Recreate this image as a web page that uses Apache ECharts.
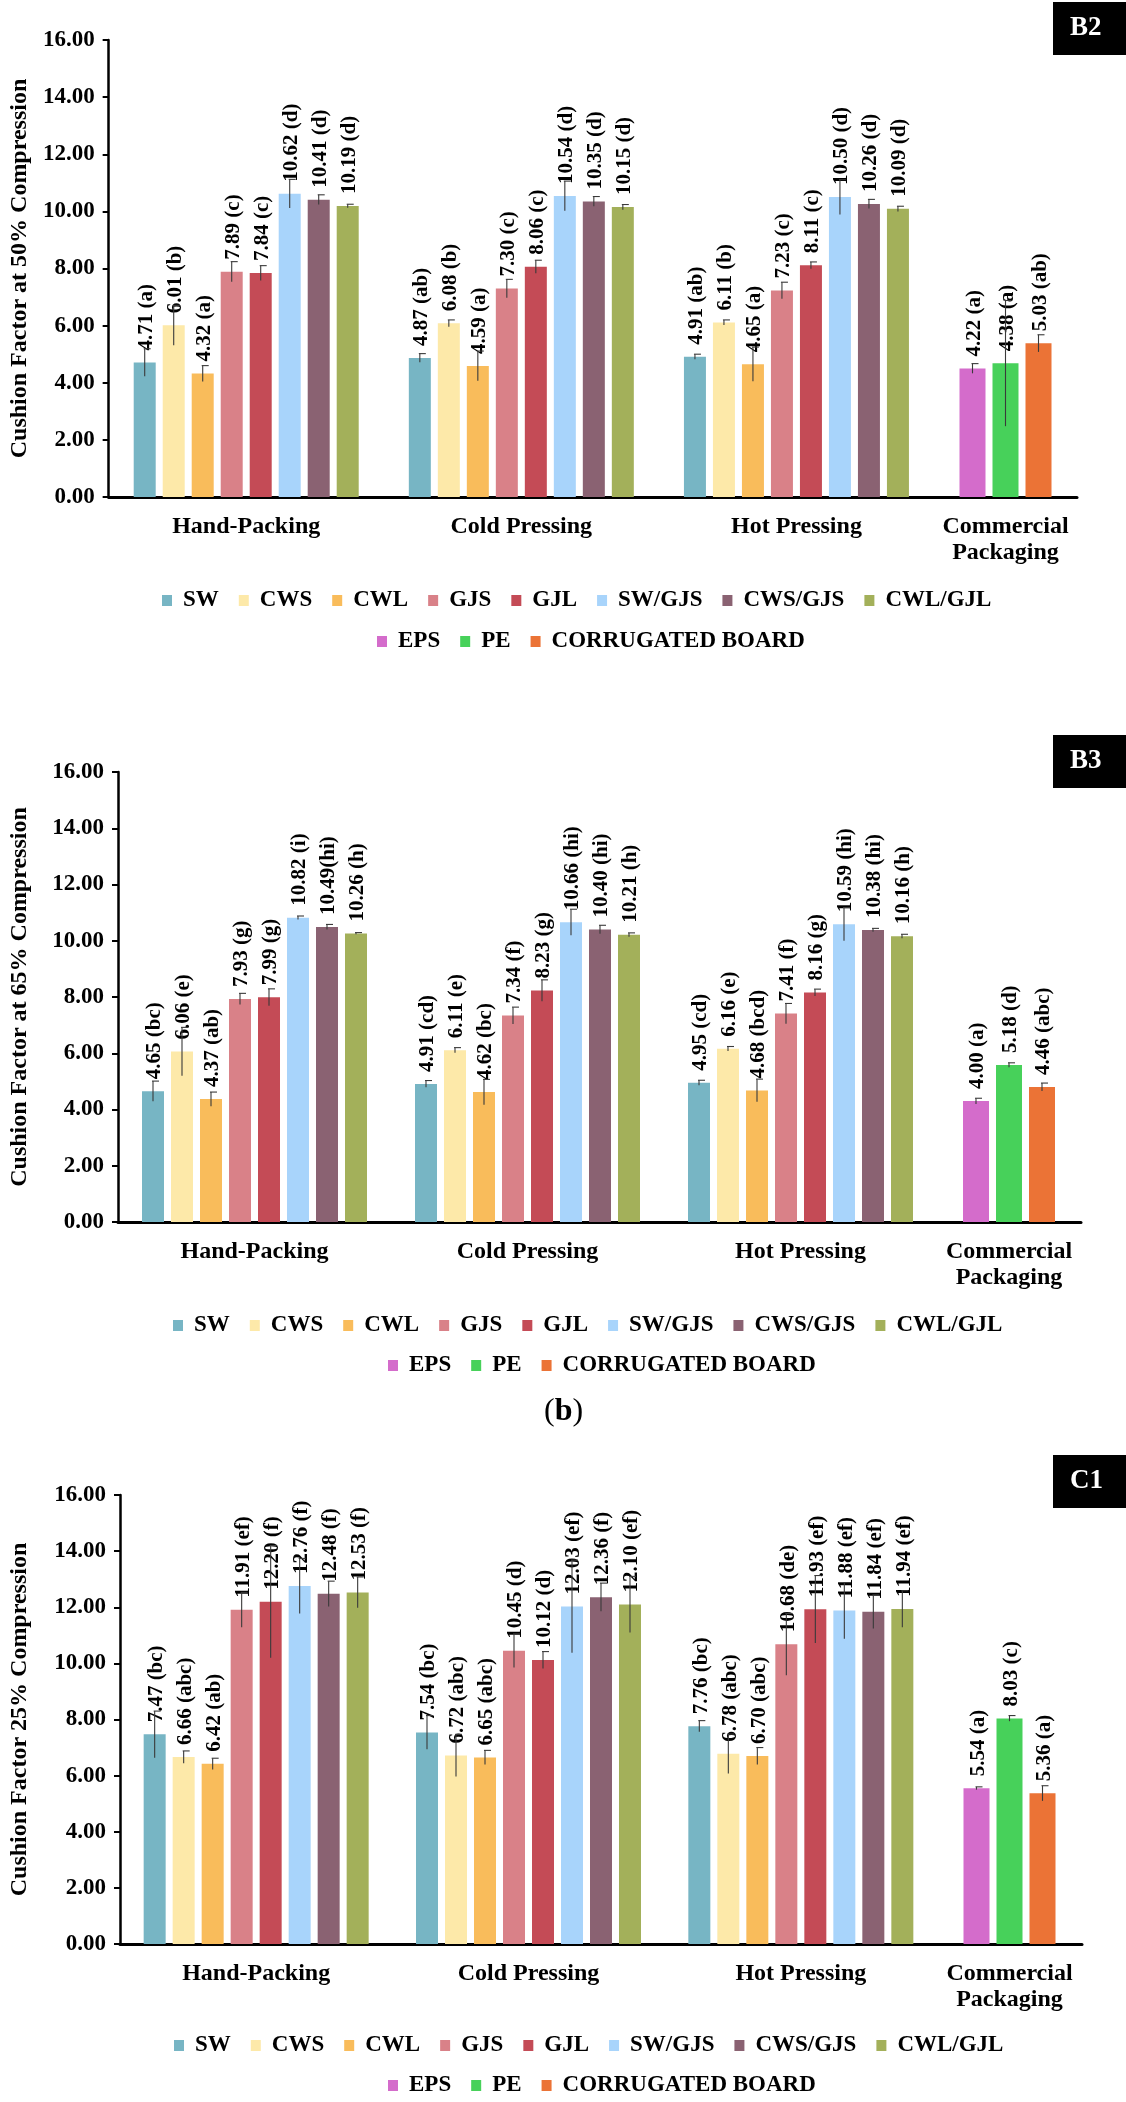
<!DOCTYPE html>
<html>
<head>
<meta charset="utf-8">
<title>Cushion factor</title>
<script src="https://cdn.jsdelivr.net/npm/echarts@6/dist/echarts.min.js"></script>
<style>
  html, body { margin: 0; padding: 0; background: #fff; }
  #chart { width: 1126px; height: 2102px; }
</style>
</head>
<body>
<div id="chart"></div>
<script>
// categories / legend names
const groups = ["Hand-Packing", "Cold Pressing", "Hot Pressing"];
const commercialGroup = ["Commercial\nPackaging"];
const fiberNames = ["SW", "CWS", "CWL", "GJS", "GJL", "SW/GJS", "CWS/GJS", "CWL/GJL"];
const commercialNames = ["EPS", "PE", "CORRUGATED BOARD"];
const fiberColors = ["#77b5c4", "#fde9a9", "#f9bc5b", "#d98188", "#c44b56", "#a8d4fb", "#8a6272", "#a3b05a"];
const commercialColors = ["#d46ccb", "#47d15a", "#eb7336"];

// ---- B2 : 50% compression
const b2Hand = [4.71, 6.01, 4.32, 7.89, 7.84, 10.62, 10.41, 10.19];
const b2HandErr = [0.48, 0.70, 0.28, 0.35, 0.26, 0.50, 0.17, 0.06];
const b2HandLabels = ["4.71 (a)", "6.01 (b)", "4.32 (a)", "7.89 (c)", "7.84 (c)", "10.62 (d)", "10.41 (d)", "10.19 (d)"];
const b2Cold = [4.87, 6.08, 4.59, 7.30, 8.06, 10.54, 10.35, 10.15];
const b2ColdErr = [0.15, 0.12, 0.52, 0.32, 0.23, 0.52, 0.17, 0.09];
const b2ColdLabels = ["4.87 (ab)", "6.08 (b)", "4.59 (a)", "7.30 (c)", "8.06 (c)", "10.54 (d)", "10.35 (d)", "10.15 (d)"];
const b2Hot = [4.91, 6.11, 4.65, 7.23, 8.11, 10.50, 10.26, 10.09];
const b2HotErr = [0.09, 0.09, 0.60, 0.29, 0.12, 0.61, 0.16, 0.09];
const b2HotLabels = ["4.91 (ab)", "6.11 (b)", "4.65 (a)", "7.23 (c)", "8.11 (c)", "10.50 (d)", "10.26 (d)", "10.09 (d)"];
const b2Comm = [4.50, 4.68, 5.38];
const b2CommErr = [0.17, 2.20, 0.30];
const b2CommLabels = ["4.22 (a)", "4.38 (a)", "5.03 (ab)"];

// ---- B3 : 65% compression
const b3Hand = [4.65, 6.06, 4.37, 7.93, 7.99, 10.82, 10.49, 10.26];
const b3HandErr = [0.36, 0.86, 0.25, 0.20, 0.30, 0.06, 0.09, 0.03];
const b3HandLabels = ["4.65 (bc)", "6.06 (e)", "4.37 (ab)", "7.93 (g)", "7.99 (g)", "10.82 (i)", "10.49(hi)", "10.26 (h)"];
const b3Cold = [4.91, 6.11, 4.62, 7.34, 8.23, 10.66, 10.40, 10.21];
const b3ColdErr = [0.12, 0.09, 0.45, 0.30, 0.38, 0.46, 0.15, 0.07];
const b3ColdLabels = ["4.91 (cd)", "6.11 (e)", "4.62 (bc)", "7.34 (f)", "8.23 (g)", "10.66 (hi)", "10.40 (hi)", "10.21 (h)"];
const b3Hot = [4.95, 6.16, 4.68, 7.41, 8.16, 10.59, 10.38, 10.16];
const b3HotErr = [0.09, 0.08, 0.40, 0.36, 0.12, 0.59, 0.06, 0.07];
const b3HotLabels = ["4.95 (cd)", "6.16 (e)", "4.68 (bcd)", "7.41 (f)", "8.16 (g)", "10.59 (hi)", "10.38 (hi)", "10.16 (h)"];
const b3Comm = [4.30, 5.58, 4.80];
const b3CommErr = [0.10, 0.08, 0.14];
const b3CommLabels = ["4.00 (a)", "5.18 (d)", "4.46 (abc)"];

// ---- C1 : 25% compression
const c1Hand = [7.47, 6.66, 6.42, 11.91, 12.20, 12.76, 12.48, 12.53];
const c1HandErr = [0.83, 0.22, 0.20, 0.62, 2.00, 0.98, 0.45, 0.55];
const c1HandLabels = ["7.47 (bc)", "6.66 (abc)", "6.42 (ab)", "11.91 (ef)", "12.20 (f)", "12.76 (f)", "12.48 (f)", "12.53 (f)"];
const c1Cold = [7.54, 6.72, 6.65, 10.45, 10.12, 12.03, 12.36, 12.10];
const c1ColdErr = [0.60, 0.75, 0.25, 0.60, 0.30, 1.65, 0.50, 1.00];
const c1ColdLabels = ["7.54 (bc)", "6.72 (abc)", "6.65 (abc)", "10.45 (d)", "10.12 (d)", "12.03 (ef)", "12.36 (f)", "12.10 (ef)"];
const c1Hot = [7.76, 6.78, 6.70, 10.68, 11.93, 11.88, 11.84, 11.94];
const c1HotErr = [0.20, 0.70, 0.30, 1.10, 1.20, 1.00, 0.60, 0.65];
const c1HotLabels = ["7.76 (bc)", "6.78 (abc)", "6.70 (abc)", "10.68 (de)", "11.93 (ef)", "11.88 (ef)", "11.84 (ef)", "11.94 (ef)"];
const c1Comm = [5.55, 8.04, 5.37];
const c1CommErr = [0.05, 0.10, 0.27];
const c1CommLabels = ["5.54 (a)", "8.03 (c)", "5.36 (a)"];

const FONT = '"Liberation Serif", "Times New Roman", serif';

const panels = [
  { vals: [b2Hand, b2Cold, b2Hot], errs: [b2HandErr, b2ColdErr, b2HotErr], labs: [b2HandLabels, b2ColdLabels, b2HotLabels],
    comm: b2Comm, commErr: b2CommErr, commLabs: b2CommLabels,
    yName: "Cushion Factor at 50% Compression", badge: "B2",
    top: 40, bottom: 497, left: 101, split: 934, right: 1077,
    legendLeft: [162, 377], legendY: [602, 643], badgeY: 2 },
  { vals: [b3Hand, b3Cold, b3Hot], errs: [b3HandErr, b3ColdErr, b3HotErr], labs: [b3HandLabels, b3ColdLabels, b3HotLabels],
    comm: b3Comm, commErr: b3CommErr, commLabs: b3CommLabels,
    yName: "Cushion Factor at 65% Compression", badge: "B3",
    top: 772, bottom: 1222, left: 114, split: 937, right: 1081,
    legendLeft: [173, 388], legendY: [1327, 1367], badgeY: 735 },
  { vals: [c1Hand, c1Cold, c1Hot], errs: [c1HandErr, c1ColdErr, c1HotErr], labs: [c1HandLabels, c1ColdLabels, c1HotLabels],
    comm: c1Comm, commErr: c1CommErr, commLabs: c1CommLabels,
    yName: "Cushion Factor 25% Compression", badge: "C1",
    top: 1495, bottom: 1944, left: 116, split: 937, right: 1082,
    legendLeft: [174, 388], legendY: [2047, 2087], badgeY: 1455 }
];

const fiberBar = 22, fiberGap = 7;
const commBar = 26, commGap = 7;

let grid = [], xAxis = [], yAxis = [], legend = [], series = [], graphic = [];

function barLabel(texts) {
  return {
    show: true,
    position: "top",
    rotate: 90,
    align: "left",
    verticalAlign: "middle",
    distance: 12,
    offset: [0, 2],
    fontFamily: FONT,
    fontWeight: "bold",
    fontSize: 21,
    color: "#000",
    formatter: function (p) { return texts[p.dataIndex]; }
  };
}

function errorSeries(axisIdx, data, n, pitch) {
  return {
    type: "custom",
    xAxisIndex: axisIdx,
    yAxisIndex: axisIdx,
    z: 4,
    silent: true,
    encode: { x: 0, y: 2 },
    data: data,
    renderItem: function (params, api) {
      let g = api.value(0), k = api.value(1), v = api.value(2), e = api.value(3);
      let x = api.coord([g, v])[0] + (k - (n - 1) / 2) * pitch;
      let yTop = api.coord([g, v + e])[1];
      let yBot = api.coord([g, v - e])[1];
      let st = { stroke: "#3a3a3a", lineWidth: 1.1 };
      return {
        type: "group",
        children: [
          { type: "line", shape: { x1: x, y1: yTop, x2: x, y2: yBot }, style: st },
          { type: "line", shape: { x1: x - 1, y1: yTop, x2: x + 6, y2: yTop }, style: st }
        ]
      };
    }
  };
}

panels.forEach(function (p, i) {
  let h = p.bottom - p.top;
  let a = 2 * i, b = 2 * i + 1;
  grid.push({ left: p.left, top: p.top, width: p.split - p.left, height: h });
  grid.push({ left: p.split, top: p.top, width: p.right - p.split, height: h });

  let xLabel = { fontFamily: FONT, fontWeight: "bold", fontSize: 24, color: "#000", margin: 17, lineHeight: 26, interval: 0 };
  let xLine = { show: true, lineStyle: { color: "#000", width: 3 } };
  xAxis.push({ type: "category", gridIndex: a, data: groups, axisLine: xLine, axisTick: { show: false }, axisLabel: xLabel });
  xAxis.push({ type: "category", gridIndex: b, data: commercialGroup, axisLine: xLine, axisTick: { show: false }, axisLabel: xLabel });

  yAxis.push({
    type: "value", gridIndex: a, min: 0, max: 16, interval: 2,
    name: p.yName, nameLocation: "middle", nameGap: p.left - 28,
    nameTextStyle: { fontFamily: FONT, fontWeight: "bold", fontSize: 24, color: "#000" },
    axisLine: { show: true, lineStyle: { color: "#000", width: 2.5 } },
    axisTick: { show: true, length: 6, lineStyle: { color: "#000", width: 2 } },
    splitLine: { show: false },
    axisLabel: { fontFamily: FONT, fontWeight: "bold", fontSize: 23, color: "#000", margin: 14,
      formatter: function (v) { return v.toFixed(2); } }
  });
  yAxis.push({ type: "value", gridIndex: b, min: 0, max: 16, interval: 2, show: false, splitLine: { show: false } });

  let legendText = { fontFamily: FONT, fontWeight: "bold", fontSize: 23, color: "#000", padding: [0, 0, 0, 6] };
  legend.push({ data: fiberNames, left: p.legendLeft[0], top: p.legendY[0] - 13, padding: 0, itemGap: 20,
    itemWidth: 10, itemHeight: 11, icon: "rect", textStyle: legendText, selectedMode: false });
  legend.push({ data: commercialNames, left: p.legendLeft[1], top: p.legendY[1] - 13, padding: 0, itemGap: 20,
    itemWidth: 10, itemHeight: 11, icon: "rect", textStyle: legendText, selectedMode: false });

  // fibre bars, one series per material
  let errData = [];
  fiberNames.forEach(function (name, k) {
    series.push({
      type: "bar", name: name, xAxisIndex: a, yAxisIndex: a,
      data: p.vals.map(function (g) { return g[k]; }),
      barWidth: fiberBar, barGap: (fiberGap / fiberBar * 100) + "%",
      itemStyle: { color: fiberColors[k] },
      label: barLabel(p.labs.map(function (g) { return g[k]; }))
    });
    p.vals.forEach(function (g, gi) { errData.push([gi, k, g[k], p.errs[gi][k]]); });
  });
  series.push(errorSeries(a, errData, fiberNames.length, fiberBar + fiberGap));

  // commercial packaging bars
  let commErrData = [];
  commercialNames.forEach(function (name, k) {
    series.push({
      type: "bar", name: name, xAxisIndex: b, yAxisIndex: b,
      data: [p.comm[k]],
      barWidth: commBar, barGap: (commGap / commBar * 100) + "%",
      itemStyle: { color: commercialColors[k] },
      label: barLabel([p.commLabs[k]])
    });
    commErrData.push([0, k, p.comm[k], p.commErr[k]]);
  });
  series.push(errorSeries(b, commErrData, commercialNames.length, commBar + commGap));

  // panel badge
  graphic.push({ type: "rect", left: 1053, top: p.badgeY, shape: { width: 73, height: 53 }, style: { fill: "#000" } });
  graphic.push({ type: "text", left: 1070, top: p.badgeY + 13,
    style: { text: p.badge, fill: "#fff", font: "bold 27px " + FONT } });
});

graphic.push({
  type: "text", left: 544, top: 1396,
  style: {
    text: "{a|(}{b|b}{a|)}",
    rich: { a: { font: "32px " + FONT, fill: "#000" }, b: { font: "bold 32px " + FONT, fill: "#000" } }
  }
});

let myChart = echarts.init(document.getElementById("chart"));
myChart.setOption({
  backgroundColor: "#fff",
  animation: false,
  grid: grid,
  xAxis: xAxis,
  yAxis: yAxis,
  legend: legend,
  graphic: graphic,
  series: series
});
</script>
</body>
</html>
